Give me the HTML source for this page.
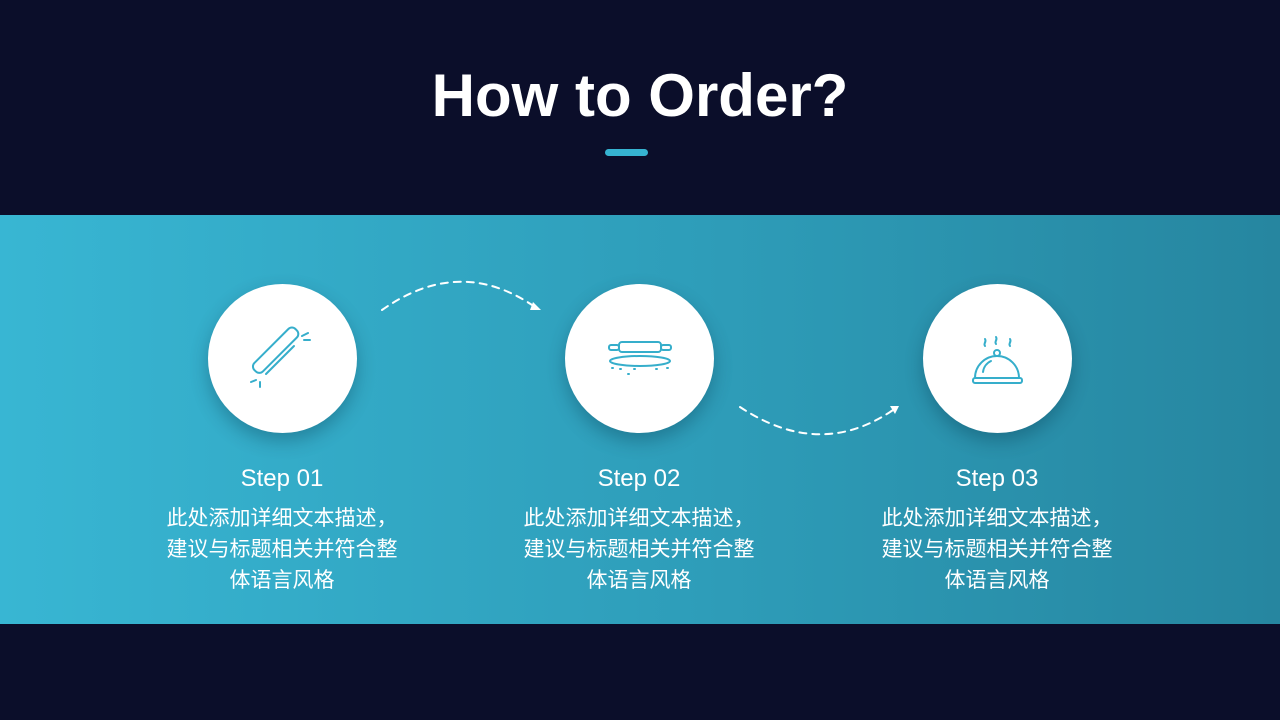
<!DOCTYPE html>
<html><head><meta charset="utf-8"><style>
*{margin:0;padding:0;box-sizing:border-box}
body{width:1280px;height:720px;background:#0b0e2a;position:relative;overflow:hidden;font-family:"Liberation Sans","Noto Sans CJK SC",sans-serif}
h1{position:absolute;top:61px;width:100%;text-align:center;color:#fff;font-size:60px;font-weight:bold}
.bar{position:absolute;left:605px;top:149px;width:43px;height:7px;border-radius:4px;background:#36b3d1}
.band{position:absolute;left:0;top:215px;width:1280px;height:409px;background:linear-gradient(90deg,#38b6d3 0%,#2e9db9 55%,#2686a0 100%)}
.c{position:absolute;top:284px;width:149px;height:149px;border-radius:50%;background:#fff;box-shadow:0 8px 18px rgba(0,40,60,.3)}
.t{position:absolute;top:465px;width:270px;text-align:center;color:#fff}
.t b{display:block;font-weight:normal;font-size:24px;margin-bottom:10px}
.t p{font-size:21px;line-height:31px}
svg{position:absolute;left:0;top:0}
</style></head><body>
<h1>How to Order?</h1>
<div class="bar"></div>
<div class="band"></div>
<div class="c" style="left:208px"></div>
<div class="c" style="left:565px"></div>
<div class="c" style="left:923px"></div>
<svg width="1280" height="720" fill="none" stroke-linecap="round">
<path d="M382 310 Q460 255 535 307" stroke="#fff" stroke-width="2" stroke-dasharray="7 6"/>
<path d="M533 302 L541 310 L530 310Z" fill="#fff"/>
<path d="M740 407 Q820 460 893 410" stroke="#fff" stroke-width="2" stroke-dasharray="7 6"/>
<path d="M890 406 L899 406 L895 414Z" fill="#fff"/>
<g stroke="#36aecb" stroke-width="2">
<rect x="266" y="328" width="12" height="58" rx="5" transform="rotate(45 282 358)"/>
<line x1="266" y1="374" x2="294" y2="346"/>
<path d="M302 336 l6 -3 M304 340 l6 0 M256 380 l-5 2 M260 382 l0 5"/>
<rect x="619" y="342" width="42" height="10" rx="3"/>
<rect x="609" y="345" width="10" height="5" rx="2"/><rect x="661" y="345" width="10" height="5" rx="2"/>
<ellipse cx="640" cy="361" rx="30" ry="5"/>
<path d="M612 368h1M620 369h1M628 374h1M634 369h1M656 369h1M667 368h1"/>
<path d="M975 378 A22 22 0 0 1 1019 378Z"/>
<rect x="973" y="378" width="49" height="5" rx="2"/>
<circle cx="997" cy="353" r="3"/>
<path d="M983 372 A14 14 0 0 1 991 361"/>
<path d="M985 346c-2-3 2-4 0-7M996 344c-2-3 2-4 0-7M1010 346c-2-3 2-4 0-7"/>
</g>
</svg>
<div class="t" style="left:147px"><b>Step 01</b><p>此处添加详细文本描述，<br>建议与标题相关并符合整<br>体语言风格</p></div>
<div class="t" style="left:504px"><b>Step 02</b><p>此处添加详细文本描述，<br>建议与标题相关并符合整<br>体语言风格</p></div>
<div class="t" style="left:862px"><b>Step 03</b><p>此处添加详细文本描述，<br>建议与标题相关并符合整<br>体语言风格</p></div>
</body></html>
